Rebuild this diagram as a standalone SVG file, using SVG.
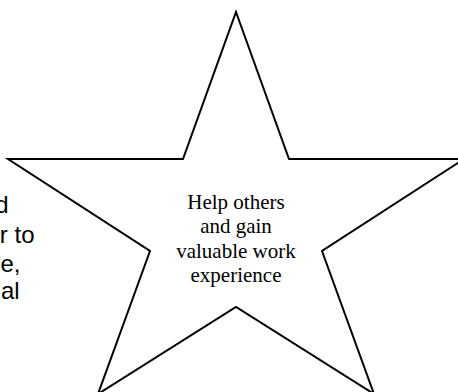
<svg xmlns="http://www.w3.org/2000/svg" width="458" height="392" viewBox="0 0 458 392">
<style>
.side{font-family:"Liberation Sans",Arial,sans-serif;font-size:24px;fill:#000;text-anchor:end}
.star{fill:#fff;stroke:#000;stroke-width:2;stroke-linejoin:miter}
.lbl{font-family:"Liberation Serif","Times New Roman",serif;font-size:21px;fill:#000;text-anchor:middle}
</style>
<rect width="458" height="392" fill="#fff"/>
<g id="side-text">
<text class="side" x="8.5" y="213">d</text>
<text class="side" x="34.5" y="243">r to</text>
<text class="side" x="20.5" y="272">e,</text>
<text class="side" x="19.6" y="299">al</text>
</g>
<g id="star">
<polygon class="star" points="236,12 289,159 464,159 322,251 374,394 236,307 98,394 150,251 8,159 183,159"/>
<text class="lbl" x="236" y="209">Help others</text>
<text class="lbl" x="236" y="233">and gain</text>
<text class="lbl" x="236" y="257.5">valuable work</text>
<text class="lbl" x="236" y="282">experience</text>
</g>
</svg>
